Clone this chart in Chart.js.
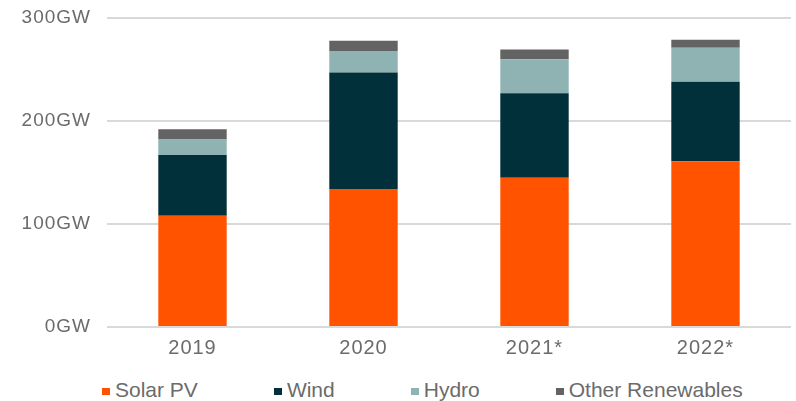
<!DOCTYPE html>
<html>
<head>
<meta charset="utf-8">
<script src="https://cdn.jsdelivr.net/npm/chart.js@4/dist/chart.umd.min.js"></script>
<style>
  html, body { margin: 0; padding: 0; background: #fff; }
  #wrap { position: relative; width: 796px; height: 401px; font-family: "Liberation Sans", Arial, sans-serif; }
  #box { position: absolute; left: 0; top: 0; width: 796px; height: 375px; }
  #legend { position: absolute; left: 102px; top: 378px; height: 24px; display: flex; gap: 76px; color: #6b6b6b; font-size: 21px; line-height: 24px; white-space: nowrap; }
  .item { display: flex; align-items: flex-start; }
  .sw { display: inline-block; width: 8px; height: 7px; margin-top: 10px; margin-right: 5px; }
</style>
</head>
<body>
<div id="wrap">
  <div id="box"><canvas id="chart"></canvas></div>
  <div id="legend"></div>
</div>
<script>
// Renewable capacity additions, stacked by technology (GW)
const years = ['2019', '2020', '2021*', '2022*'];
const seriesNames = ['Solar PV', 'Wind', 'Hydro', 'Other Renewables'];
const seriesColors = ['#ff5300', '#02303a', '#8fb3b2', '#636363'];

const solarPV = [108, 134, 145, 161];
const wind = [59, 113, 82, 77];
const hydro = [15, 21, 33, 33];
const otherRenewables = [10, 10, 9.5, 8];

const yTicks = [0, 100, 200, 300];

const seriesValues = [solarPV, wind, hydro, otherRenewables];

// letter spacing on canvas text, the source axis labels are a bit tracked out
const spacingPlugin = {
  id: 'spacing',
  beforeDraw(chart) {
    chart.ctx.letterSpacing = '1px';
  },
};

const ctx = document.getElementById('chart').getContext('2d');

new Chart(ctx, {
  type: 'bar',
  data: {
    labels: years,
    datasets: seriesNames.map((name, i) => ({
      label: name,
      data: seriesValues[i],
      backgroundColor: seriesColors[i],
      borderWidth: 0,
      categoryPercentage: 1,
      barPercentage: 0.4,
    })),
  },
  options: {
    responsive: true,
    maintainAspectRatio: false,
    animation: false,
    layout: {
      padding: { left: 0, right: 5, top: 18, bottom: 0 },
    },
    plugins: {
      legend: { display: false },
      tooltip: { enabled: false },
    },
    scales: {
      x: {
        stacked: true,
        grid: { display: false, drawTicks: false },
        border: { display: false },
        ticks: {
          color: '#6b6b6b',
          padding: 9,
          font: { family: '"Liberation Sans", Arial, sans-serif', size: 20 },
        },
        afterFit: function (scale) {
          scale.height = 48;
          scale.paddingLeft = 0;
          scale.paddingRight = 0;
        },
      },
      y: {
        stacked: true,
        min: 0,
        max: 300,
        afterBuildTicks: function (scale) {
          scale.ticks = yTicks.map((v) => ({ value: v }));
        },
        grid: { color: '#d9d9d9', lineWidth: 2, drawTicks: false },
        border: { display: false },
        ticks: {
          color: '#6b6b6b',
          padding: 16,
          font: { family: '"Liberation Sans", Arial, sans-serif', size: 19 },
          callback: function (value) {
            return value + 'GW';
          },
        },
        afterFit: function (scale) {
          scale.width = 107;
          scale.paddingTop = 0;
          scale.paddingBottom = 0;
        },
      },
    },
  },
  plugins: [spacingPlugin],
});

// Legend below the chart
const legend = document.getElementById('legend');
seriesNames.forEach((name, i) => {
  const item = document.createElement('div');
  item.className = 'item';
  item.innerHTML = `<span class="sw" style="background:${seriesColors[i]}"></span><span>${name}</span>`;
  legend.appendChild(item);
});
</script>
</body>
</html>
